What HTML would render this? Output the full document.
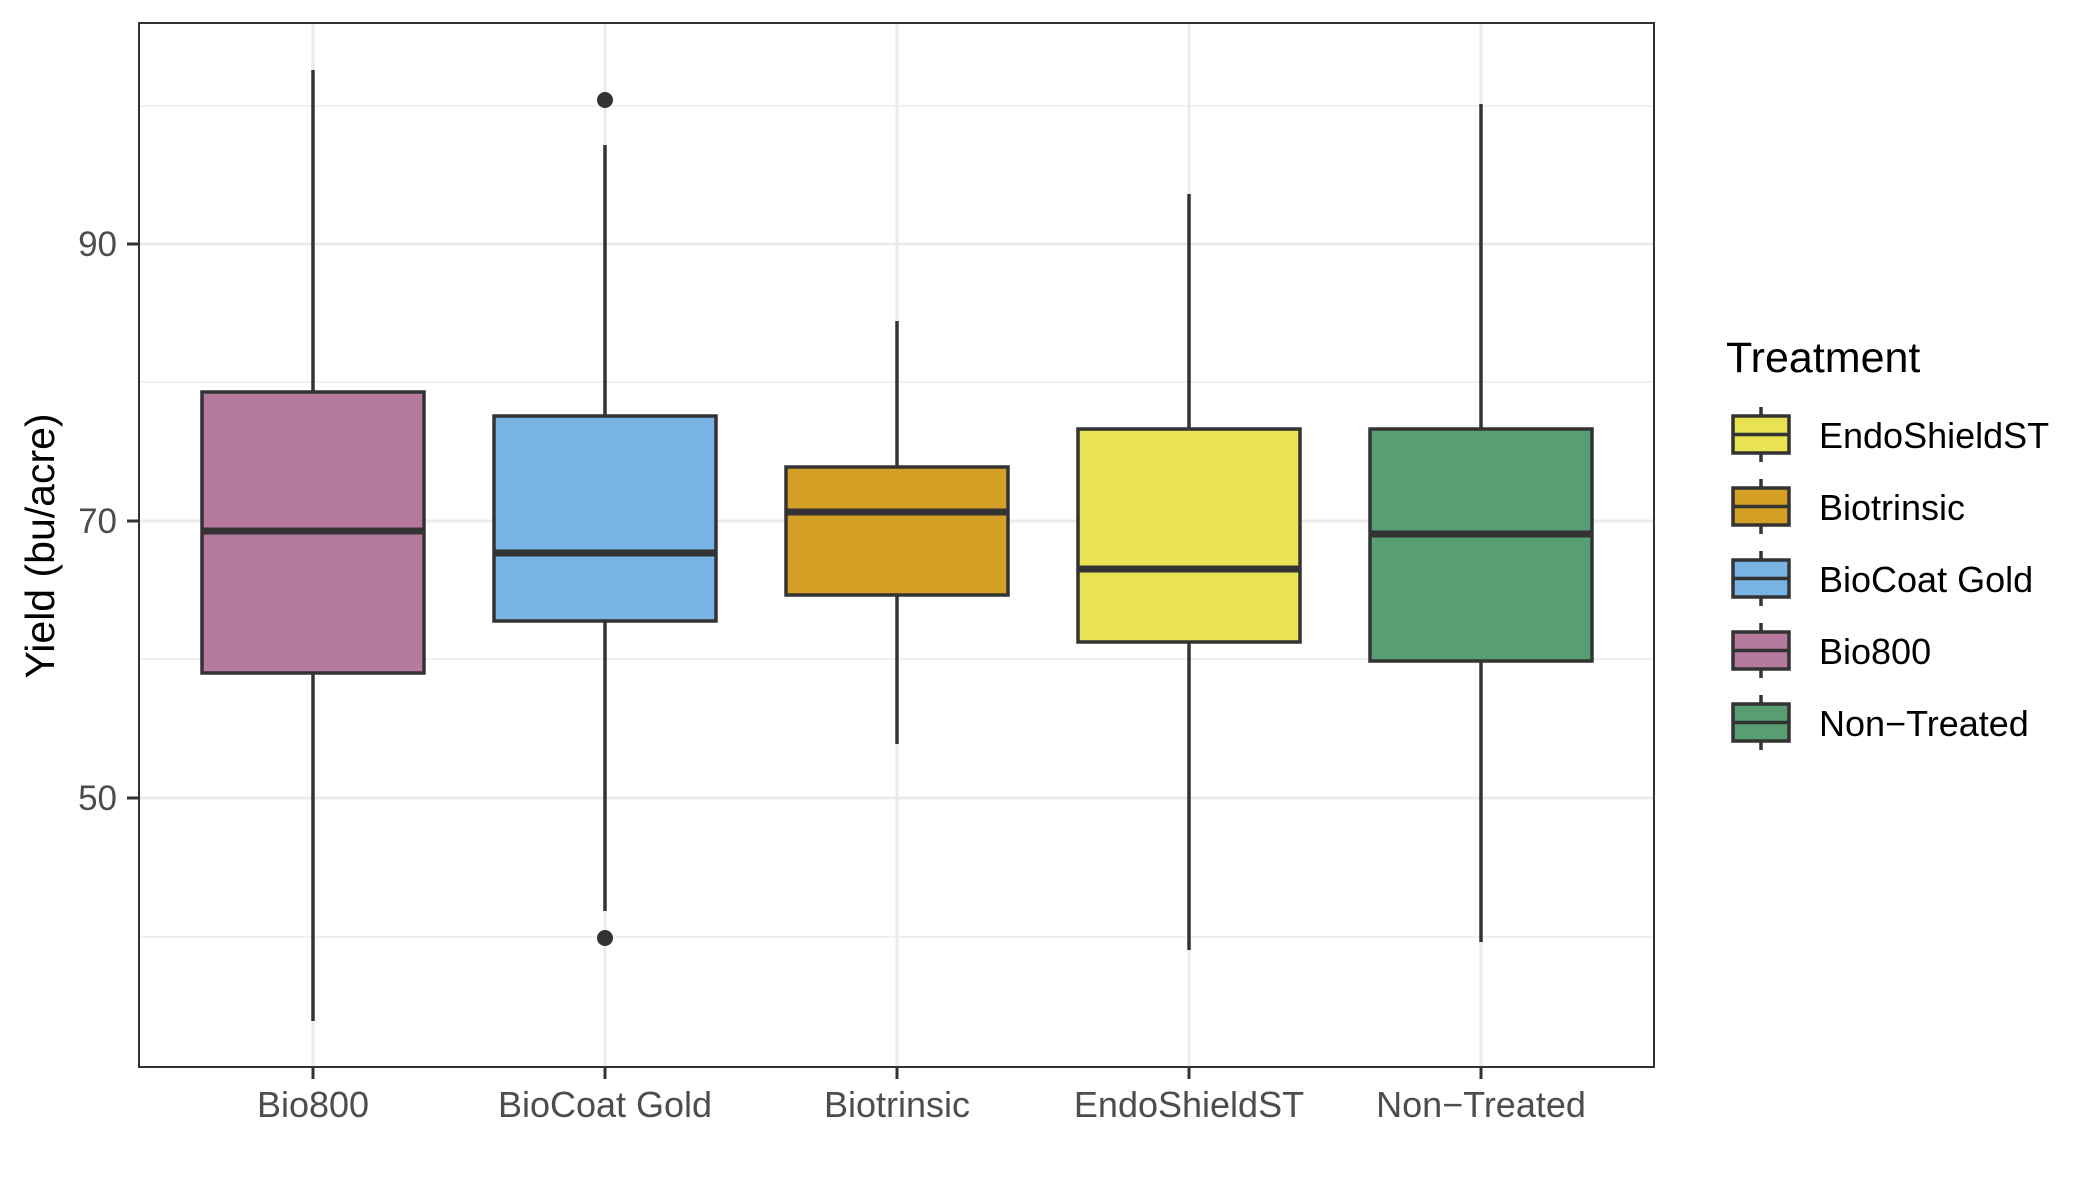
<!DOCTYPE html>
<html><head><meta charset="utf-8"><style>
html,body{margin:0;padding:0;background:#fff;}
svg{display:block;font-family:"Liberation Sans",Arial,sans-serif;}
</style></head><body>
<svg width="2100" height="1200" viewBox="0 0 2100 1200" xmlns="http://www.w3.org/2000/svg">
<rect width="2100" height="1200" fill="#fff"/>
<g stroke="#ebebeb">
<line x1="139" x2="1654" y1="106" y2="106" stroke-width="1.6"/>
<line x1="139" x2="1654" y1="382" y2="382" stroke-width="1.6"/>
<line x1="139" x2="1654" y1="659" y2="659" stroke-width="1.6"/>
<line x1="139" x2="1654" y1="937" y2="937" stroke-width="1.6"/>
<line x1="139" x2="1654" y1="244" y2="244" stroke-width="3"/>
<line x1="139" x2="1654" y1="521" y2="521" stroke-width="3"/>
<line x1="139" x2="1654" y1="798" y2="798" stroke-width="3"/>
<line x1="313" x2="313" y1="23" y2="1067" stroke-width="3"/>
<line x1="605" x2="605" y1="23" y2="1067" stroke-width="3"/>
<line x1="897" x2="897" y1="23" y2="1067" stroke-width="3"/>
<line x1="1189" x2="1189" y1="23" y2="1067" stroke-width="3"/>
<line x1="1481" x2="1481" y1="23" y2="1067" stroke-width="3"/>
</g>
<g stroke="#333" stroke-width="3.5">
<line x1="313" x2="313" y1="70" y2="1021"/>
<rect x="202" y="392" width="222" height="281" fill="#b77a9f"/>
<line x1="202" x2="424" y1="531" y2="531" stroke-width="7"/>
<line x1="605" x2="605" y1="145" y2="911"/>
<rect x="494" y="416" width="222" height="205" fill="#78b3e5"/>
<line x1="494" x2="716" y1="553" y2="553" stroke-width="7"/>
<line x1="897" x2="897" y1="321" y2="744"/>
<rect x="786" y="467" width="222" height="128" fill="#d49f25"/>
<line x1="786" x2="1008" y1="512" y2="512" stroke-width="7"/>
<line x1="1189" x2="1189" y1="194" y2="950"/>
<rect x="1078" y="429" width="222" height="213" fill="#e9e353"/>
<line x1="1078" x2="1300" y1="569" y2="569" stroke-width="7"/>
<line x1="1481" x2="1481" y1="104" y2="942"/>
<rect x="1370" y="429" width="222" height="232" fill="#589e72"/>
<line x1="1370" x2="1592" y1="534" y2="534" stroke-width="7"/>
</g>
<circle cx="605" cy="100" r="8" fill="#333"/>
<circle cx="605" cy="938" r="8" fill="#333"/>
<rect x="139" y="23" width="1515" height="1044" fill="none" stroke="#333" stroke-width="2"/>
<g stroke="#333" stroke-width="3">
<line x1="127" x2="139" y1="244" y2="244"/>
<line x1="127" x2="139" y1="521" y2="521"/>
<line x1="127" x2="139" y1="798" y2="798"/>
<line x1="313" x2="313" y1="1067" y2="1079"/>
<line x1="605" x2="605" y1="1067" y2="1079"/>
<line x1="897" x2="897" y1="1067" y2="1079"/>
<line x1="1189" x2="1189" y1="1067" y2="1079"/>
<line x1="1481" x2="1481" y1="1067" y2="1079"/>
</g>
<g fill="#4d4d4d" font-size="35" text-anchor="end">
<text x="117" y="256">90</text>
<text x="117" y="533">70</text>
<text x="117" y="810">50</text>
</g>
<g fill="#4d4d4d" font-size="36" text-anchor="middle">
<text x="313" y="1117">Bio800</text>
<text x="605" y="1117">BioCoat Gold</text>
<text x="897" y="1117">Biotrinsic</text>
<text x="1189" y="1117">EndoShieldST</text>
<text x="1481" y="1117">Non−Treated</text>
</g>
<text transform="translate(54,546) rotate(-90)" font-size="41" text-anchor="middle" fill="#000">Yield (bu/acre)</text>
<text x="1726" y="372" font-size="43" fill="#000">Treatment</text>
<g stroke="#333" stroke-width="3.5">
<line x1="1761" x2="1761" y1="407" y2="462"/><rect x="1733" y="416" width="56" height="37" fill="#e9e353"/><line x1="1733" x2="1789" y1="434.5" y2="434.5"/>
<line x1="1761" x2="1761" y1="479" y2="534"/><rect x="1733" y="488" width="56" height="37" fill="#d49f25"/><line x1="1733" x2="1789" y1="506.5" y2="506.5"/>
<line x1="1761" x2="1761" y1="551" y2="606"/><rect x="1733" y="560" width="56" height="37" fill="#78b3e5"/><line x1="1733" x2="1789" y1="578.5" y2="578.5"/>
<line x1="1761" x2="1761" y1="623" y2="678"/><rect x="1733" y="632" width="56" height="37" fill="#b77a9f"/><line x1="1733" x2="1789" y1="650.5" y2="650.5"/>
<line x1="1761" x2="1761" y1="695" y2="750"/><rect x="1733" y="704" width="56" height="37" fill="#589e72"/><line x1="1733" x2="1789" y1="722.5" y2="722.5"/>
</g>
<g font-size="36" fill="#000">
<text x="1819" y="448">EndoShieldST</text>
<text x="1819" y="520">Biotrinsic</text>
<text x="1819" y="592">BioCoat Gold</text>
<text x="1819" y="664">Bio800</text>
<text x="1819" y="736">Non−Treated</text>
</g>
</svg>
</body></html>
